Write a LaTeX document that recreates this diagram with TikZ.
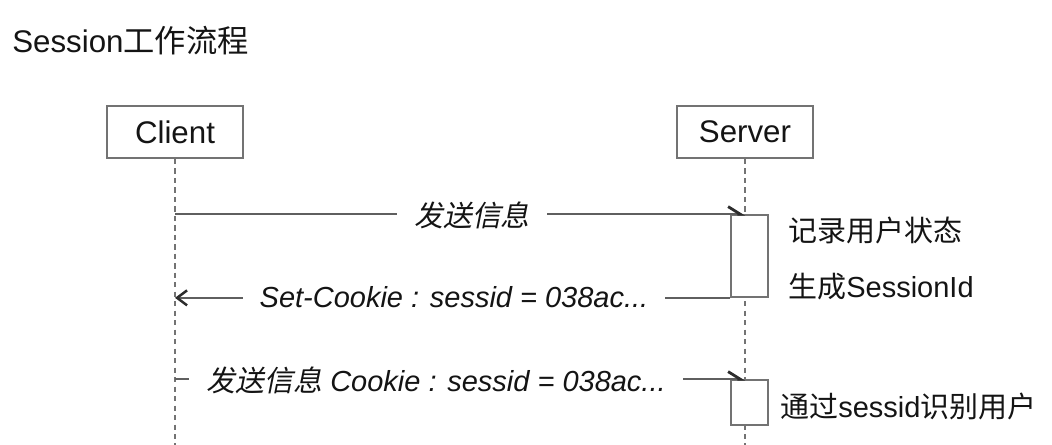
\documentclass[tikz,border=0pt]{standalone}
\usepackage{fontspec}
\setmainfont{Liberation Sans}
\newfontfamily\cjk{Noto Sans CJK SC}
\newfontfamily\cjkit[FakeSlant=0.2]{Noto Sans CJK SC}
\usetikzlibrary{arrows.meta, positioning}
\definecolor{boxline}{RGB}{115,115,115}
\definecolor{msgline}{RGB}{95,95,95}
\definecolor{tipdark}{RGB}{45,45,45}
\definecolor{txt}{RGB}{20,20,20}

\begin{document}
\begin{tikzpicture}[
  x=0.02cm, y=-0.02cm,
  every node/.style = {text=txt, inner sep=0pt},
  big/.style = {font=\fontsize{17.8}{20}\selectfont},
  lbl/.style = {font=\fontsize{16.5}{19}\selectfont},
  actor/.style = {
    big, draw=boxline, line width=1pt,
    minimum width=2.72cm, minimum height=1.04cm
  },
  act/.style = {draw=boxline, line width=1pt, fill=white, minimum width=0.74cm},
  life/.style = {draw=boxline, dash pattern=on 3pt off 2.4pt, line width=0.8pt},
  msg/.style = {draw=msgline, line width=1pt},
  call/.style = {msg, -{Straight Barb[left, length=2.4mm, width=3mm, line width=1.6pt, color=tipdark]}},
  reply/.style = {msg, -{Straight Barb[length=2mm, width=3mm, line width=1.4pt, color=tipdark]}},
  msglbl/.style = {font=\fontsize{16.5}{19}\selectfont\itshape, fill=white, inner xsep=0.34cm, inner ysep=2pt}
]
\useasboundingbox (0,0) rectangle (1052,445);

% ---- title ----
\node[big, anchor=west] (title) at (12,41) {Session{\cjk 工作流程}};

% ---- participants + lifelines ----
\node[actor] (client) at (175,132) {Client};
\node[actor] (server) at (745,132) {Server};
\coordinate (cend) at (175,445);
\coordinate (send) at (745,445);
\draw[life] (client) -- (cend);
\draw[life] (server) -- (send);

% ---- activations ----
\node[act, minimum height=1.64cm] (act1) at (749.5,256) {};
\node[act, minimum height=0.9cm]  (act2) at (749.5,402.5) {};

% ---- messages ----
\draw[call] (client |- act1.north) -- (server |- act1.north);
\node[msglbl] (m1) at (472,215) {{\cjkit 发送信息}};

\draw[reply] (act1.south west) -- (client |- act1.south);
\node[msglbl] (m2) at (454,297) {Set-Cookie : sessid = 038ac...};

\draw[call] (client |- act2.north) -- (server |- act2.north);
\node[msglbl] (m3) at (436,380) {{\cjkit 发送信息} Cookie : sessid = 038ac...};

% ---- notes on the server side ----
\node[lbl, anchor=west] (rec)   at (788,231) {{\cjk 记录用户状态}};
\node[lbl, anchor=west] (gen)   at (788,287) {{\cjk 生成}SessionId};
\node[lbl, anchor=west] (ident) at (780,407) {{\cjk 通过}sessid{\cjk 识别用户}};

\end{tikzpicture}
\end{document}
